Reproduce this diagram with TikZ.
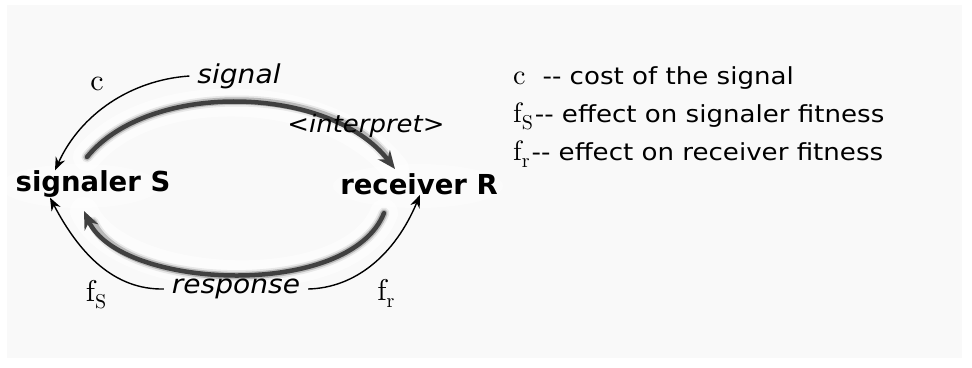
\documentclass[tikz,border=0pt]{standalone}
\usepackage{fontspec}
\newfontfamily\cfb{DejaVu Sans}
\newfontfamily\cfi[FakeStretch=1.08]{DejaVu Sans}
\newfontfamily\cfl[FakeStretch=1.11]{DejaVu Sans}
\newfontfamily\serf{lmroman10-regular.otf}
\usetikzlibrary{arrows.meta,calc}
\definecolor{panel}{HTML}{F9F9F9}
\definecolor{arcgray}{HTML}{404040}
\newcommand{\serifc}[1]{{\serf\fontsize{#1}{32}\selectfont c}}
\newcommand{\seriff}[2]{{\serf\fontsize{#1}{32}\selectfont f\raisebox{-7pt}{\fontsize{20}{22}\selectfont #2}}}
\tikzset{
  x=1pt, y=-1pt,
  bigl/.style={font=\cfb\bfseries\fontsize{27.5}{30}\selectfont, inner sep=0pt},
  itl/.style={font=\cfi\itshape\fontsize{26}{30}\selectfont, inner sep=0pt, outer sep=8pt},
  mth/.style={inner sep=0pt},
  halo/.style={white, line width=28pt, line cap=round},
  blur1/.style={gray!18, line width=11pt, line cap=round},
  blur2/.style={gray!55, line width=7.5pt, line cap=round},
  thickarc/.style={arcgray, line width=4.5pt, line cap=round, -{Stealth[length=18pt,width=15pt]}},
  thinarr/.style={black, line width=1.4pt, -{Stealth[length=13pt,width=10pt]}},
  leg/.style={anchor=base west, inner sep=0pt, font=\cfl\fontsize{23.5}{28}\selectfont}
}
\begin{document}
\begin{tikzpicture}
\useasboundingbox (0,0) rectangle (972,367);
\fill[panel] (7,5) rectangle (962,358);
% arc endpoints
\coordinate (t0) at (87,157);
\coordinate (t1) at (395,169);
\coordinate (b0) at (384,213);
\coordinate (b1) at (84,211);
% halos
\begin{scope}[opacity=0.6]
\draw[halo] (t0) .. controls (150,80) and (330,85) .. (t1);
\draw[halo] (b0) .. controls (350,300) and (120,290) .. (b1);
\end{scope}
\begin{scope}[opacity=0.4]
\fill[white] (80,186) ellipse (80 and 22);
\fill[white] (418,186) ellipse (85 and 22);
\end{scope}
% thick arcs (blurred look)
\draw[blur1] (t0) .. controls (150,80) and (330,85) .. ($(t1)+(-9,-13)$);
\draw[blur2] (t0) .. controls (150,80) and (330,85) .. ($(t1)+(-9,-13)$);
\draw[thickarc] (t0) .. controls (150,80) and (330,85) .. (t1);
\draw[blur1] (b0) .. controls (350,300) and (120,290) .. ($(b1)+(9,11)$);
\draw[blur2] (b0) .. controls (350,300) and (120,290) .. ($(b1)+(9,11)$);
\draw[thickarc] (b0) .. controls (350,300) and (120,290) .. (b1);
% main nodes
\node[bigl] (S) at (93,184) {signaler S};
\node[bigl] (R) at (419,184) {receiver R};
\node[itl] (sig) at (239,76) {signal};
\node[itl, font=\cfi\itshape\fontsize{24}{28}\selectfont] (int) at (366,126) {<interpret>};
\node[itl] (resp) at (236,289) {response};
\node[mth] (c) at (97,84) {\serifc{30}};
\node[mth] (fs) at (96,295) {\seriff{30}{S}};
\node[mth] (fr) at (386,293) {\seriff{30}{r}};
% thin arrows
\draw[thinarr] (sig.west) .. controls (130,80) and (80,115) .. (S.north -| 55,0);
\draw[thinarr] (resp.west) .. controls (115,290) and (80,255) .. (S.south -| 50,0);
\draw[thinarr] (resp.east) .. controls (355,288) and (395,255) .. (R.south -| 420,0);
% legend
\node[leg] (l1) at (513,84) {\serifc{28}\hspace{17pt}-{}- cost of the signal};
\node[leg] (l2) at (513,122) {\seriff{28}{S}\hspace{2pt}-{}- effect on signaler fitness};
\node[leg] (l3) at (513,160) {\seriff{28}{r}\hspace{2pt}-{}- effect on receiver fitness};
\end{tikzpicture}
\end{document}
